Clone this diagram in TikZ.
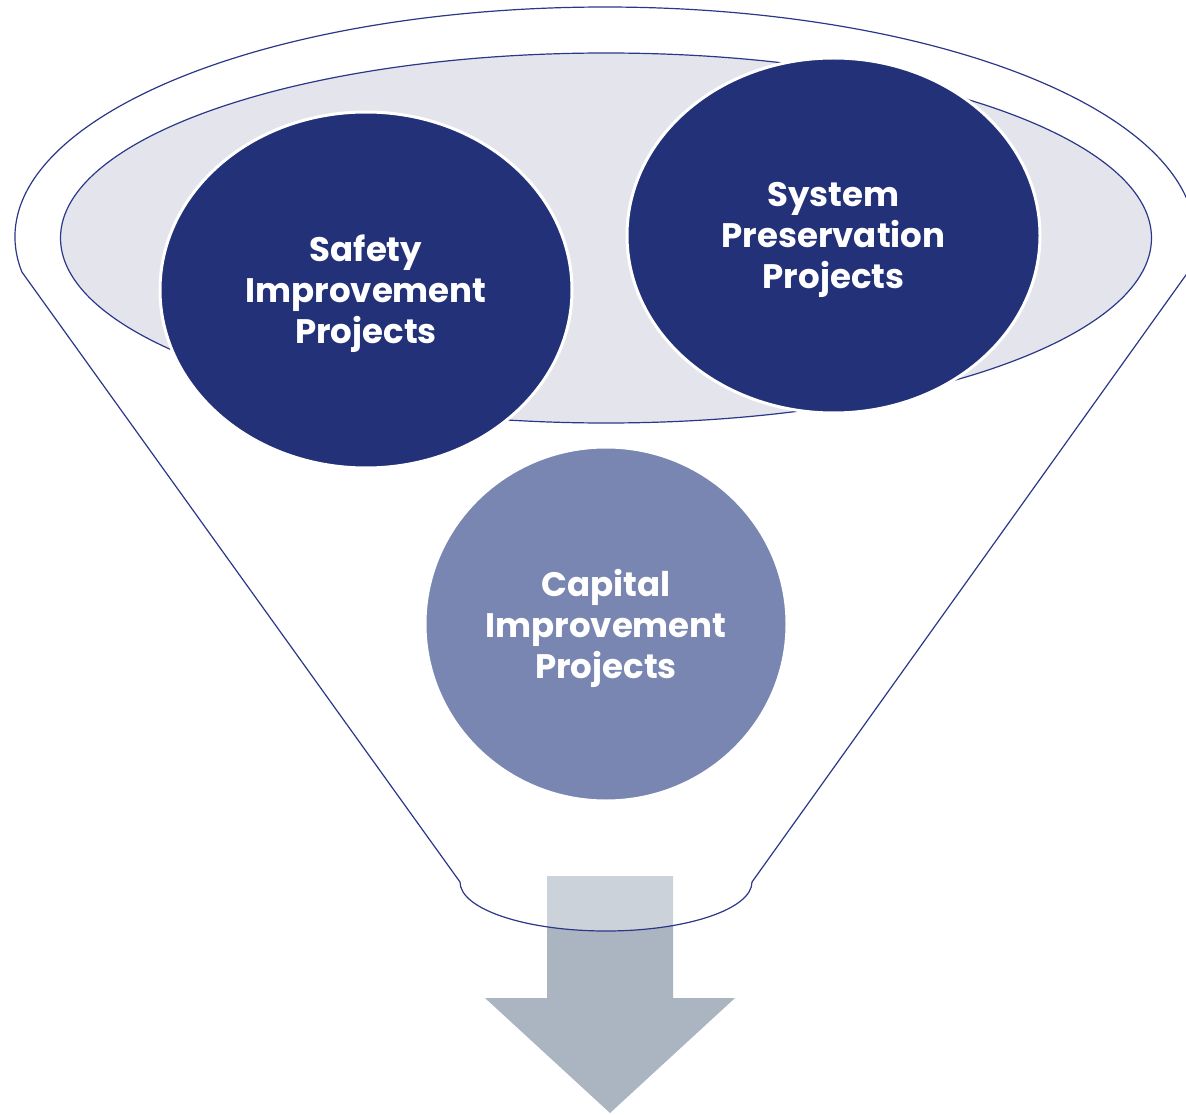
\documentclass[tikz,border=0pt]{standalone}
\usepackage{fontspec}
\setmainfont{Poppins}
\usetikzlibrary{shapes.geometric}
\definecolor{navy}{HTML}{233278}
\definecolor{funnelline}{HTML}{2B3788}
\definecolor{rimfill}{HTML}{E4E5EC}
\definecolor{capfill}{HTML}{7A86B2}
\definecolor{arrowfill}{HTML}{AAB5C1}
\tikzset{
  bubble/.style={ellipse, draw=white, line width=3pt, inner sep=0pt},
  bubbletext/.style={text=white, font=\fontsize{34}{41}\selectfont\bfseries, align=center},
  outline/.style={draw=funnelline, line width=1.2pt}
}
\begin{document}
\begin{tikzpicture}[x=1pt,y=-1pt]
\useasboundingbox (0,0) rectangle (1186,1115);
\clip (0,0) rectangle (1186,1115);
% arrow
\fill[arrowfill] (547,876) -- (673,876) -- (673,998) -- (735,998) -- (610,1113) -- (485,998) -- (547,998) -- cycle;
% funnel
\path[outline, fill=white, fill opacity=0.4]
  (605,237) ++(171.25:590 and 230) arc[start angle=171.25, end angle=368.75, x radius=590, y radius=230]
  -- (752,882) arc[start angle=0, end angle=180, x radius=146, y radius=49]
  -- cycle;
% rim
\node[ellipse, outline, fill=rimfill, minimum width=1091pt, minimum height=370pt, inner sep=0pt] (rim) at (606,238) {};
% bubbles
\node[bubble, fill=capfill, minimum width=362pt, minimum height=354pt] (cap) at (606,624) {};
\node[bubble, fill=navy, minimum width=412pt, minimum height=356pt] (safe) at (366,290) {};
\node[bubble, fill=navy, minimum width=413pt, minimum height=355pt] (sys) at (833.5,235.5) {};
\node[bubbletext] (safet) at ([yshift=-4pt]safe.center) {Safety\\Improvement\\Projects};
\node[bubbletext] (syst) at ([yshift=-4pt]sys.center) {System\\Preservation\\Projects};
\node[bubbletext] (capt) at ([yshift=-4pt]cap.center) {Capital\\Improvement\\Projects};
\end{tikzpicture}
\end{document}
